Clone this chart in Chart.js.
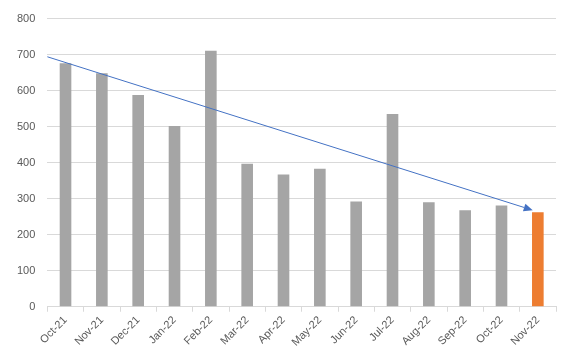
<!DOCTYPE html>
<html><head><meta charset="utf-8">
<script src="https://cdn.jsdelivr.net/npm/chart.js@4/dist/chart.umd.min.js"></script>
<style>html,body{margin:0;padding:0;background:#fff;}#wrap{width:561px;height:355px;}</style>
</head><body><div id="wrap"><canvas id="c" width="561" height="355"></canvas></div>
<script>
const categories = ["Oct-21","Nov-21","Dec-21","Jan-22","Feb-22","Mar-22","Apr-22","May-22","Jun-22","Jul-22","Aug-22","Sep-22","Oct-22","Nov-22"];
const values = [676, 648, 588, 502, 711, 397, 367, 383, 292, 535, 290, 268, 281, 262];
const barColors = ["#A5A5A5","#A5A5A5","#A5A5A5","#A5A5A5","#A5A5A5","#A5A5A5","#A5A5A5","#A5A5A5","#A5A5A5","#A5A5A5","#A5A5A5","#A5A5A5","#A5A5A5","#ED7D31"];
const trendX = [-0.5, 12.86];
const trendY = [694, 268];
const yTicks = [0,100,200,300,400,500,600,700,800];

function catPixel(xs, v) {
  const p0 = xs.getPixelForValue(0), p1 = xs.getPixelForValue(1);
  return p0 + v * (p1 - p0);
}

const arrowPlugin = {
  id: 'arrow',
  afterDatasetsDraw(chart) {
    const xs = chart.scales.x, ys = chart.scales.y;
    const x0 = catPixel(xs, trendX[0]), y0 = ys.getPixelForValue(trendY[0]);
    const x1 = catPixel(xs, trendX[1]), y1 = ys.getPixelForValue(trendY[1]);
    const ctx = chart.ctx;
    const ang = Math.atan2(y1 - y0, x1 - x0);
    const L = 9, W = 4;
    const bx = x1 - L * Math.cos(ang), by = y1 - L * Math.sin(ang);
    ctx.save();
    ctx.strokeStyle = '#4472C4';
    ctx.lineWidth = 1;
    ctx.beginPath(); ctx.moveTo(x0, y0); ctx.lineTo(bx, by); ctx.stroke();
    ctx.fillStyle = '#4472C4';
    ctx.beginPath();
    ctx.moveTo(x1, y1);
    ctx.lineTo(bx - W * Math.sin(ang), by + W * Math.cos(ang));
    ctx.lineTo(bx + W * Math.sin(ang), by - W * Math.cos(ang));
    ctx.closePath(); ctx.fill();
    ctx.restore();
  }
};

new Chart(document.getElementById('c'), {
  type: 'bar',
  data: {
    labels: categories,
    datasets: [{
      data: values,
      backgroundColor: barColors,
      barPercentage: 0.64,
      categoryPercentage: 0.5
    }]
  },
  options: {
    responsive: false,
    animation: false,
    devicePixelRatio: 1,
    layout: { padding: { top: 5, right: 5, left: 5, bottom: 4 } },
    plugins: { legend: { display: false }, tooltip: { enabled: false } },
    scales: {
      x: {
        offset: true,
        grid: { display: true, drawOnChartArea: false, drawTicks: true, tickLength: 5, color: '#D9D9D9', offset: true },
        border: { display: true, color: '#D9D9D9' },
        ticks: { color: '#595959', font: { family: 'Liberation Sans', size: 11 }, minRotation: 45, maxRotation: 45, autoSkip: false, padding: 2 }
      },
      y: {
        min: 0, max: 800,
        afterBuildTicks(scale) { scale.ticks = yTicks.map(v => ({ value: v })); },
        grid: { color: '#D9D9D9', drawTicks: false },
        border: { display: false },
        ticks: { color: '#595959', font: { family: 'Liberation Sans', size: 11 }, padding: 12 }
      }
    }
  },
  plugins: [arrowPlugin]
});
</script></body></html>
